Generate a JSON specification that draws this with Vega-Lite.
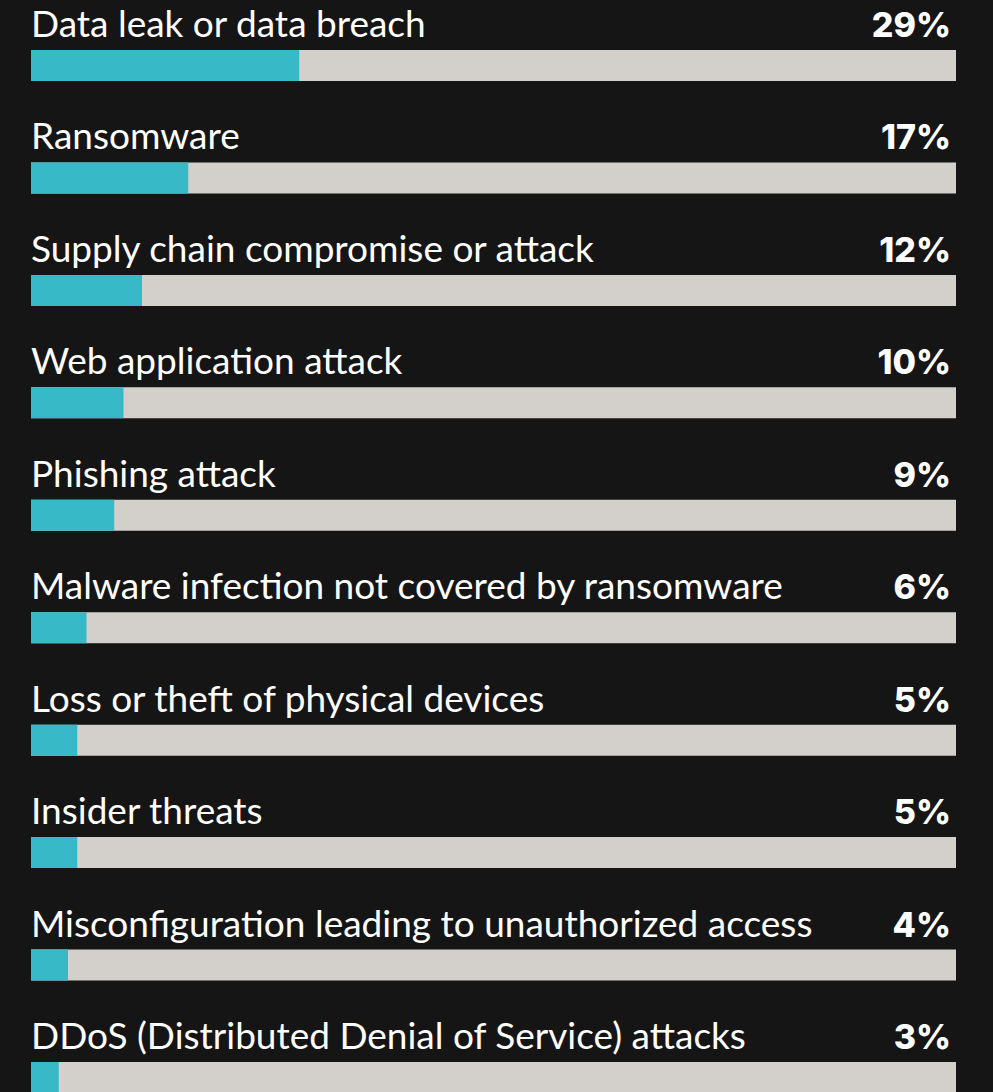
{
  "$schema": "https://vega.github.io/schema/vega-lite/v6.json",
  "width": 993,
  "height": 1092,
  "autosize": {"type": "none"},
  "padding": 0,
  "background": "#151515",
  "view": {"stroke": null},
  "config": {"font": "Lato"},
  "data": {"values": [
    {"label": "Data leak or data breach", "value": 0.29, "total": 1},
    {"label": "Ransomware", "value": 0.17, "total": 1},
    {"label": "Supply chain compromise or attack", "value": 0.12, "total": 1},
    {"label": "Web application attack", "value": 0.10, "total": 1},
    {"label": "Phishing attack", "value": 0.09, "total": 1},
    {"label": "Malware infection not covered by ransomware", "value": 0.06, "total": 1},
    {"label": "Loss or theft of physical devices", "value": 0.05, "total": 1},
    {"label": "Insider threats", "value": 0.05, "total": 1},
    {"label": "Misconfiguration leading to unauthorized access", "value": 0.04, "total": 1},
    {"label": "DDoS (Distributed Denial of Service) attacks", "value": 0.03, "total": 1}
  ]},
  "encoding": {
    "y": {"field": "label", "type": "ordinal", "sort": null,
          "scale": {"type": "point", "range": [65.5, 1077.5], "padding": 0},
          "axis": null}
  },
  "layer": [
    {
      "mark": {"type": "bar", "height": 31, "color": "#d3d0cb"},
      "encoding": {
        "x": {"field": "total", "type": "quantitative", "stack": null, "scale": {"domain": [0, 1], "range": [31, 956], "zero": true}, "axis": null}
      }
    },
    {
      "mark": {"type": "bar", "height": 31, "color": "#38b9c7"},
      "encoding": {
        "x": {"field": "value", "type": "quantitative", "stack": null}
      }
    },
    {
      "mark": {"type": "text", "align": "left", "baseline": "alphabetic", "dy": -28.5, "fontSize": 37, "color": "#ffffff", "font": "Lato"},
      "encoding": {
        "x": {"datum": 0, "type": "quantitative"},
        "text": {"field": "label", "type": "nominal"}
      }
    },
    {
      "mark": {"type": "text", "align": "right", "baseline": "alphabetic", "dy": -28.5, "dx": -5, "fontSize": 34, "fontWeight": 800, "color": "#ffffff", "font": "Inter"},
      "encoding": {
        "x": {"field": "total", "type": "quantitative"},
        "text": {"field": "value", "type": "quantitative", "format": ".0%"}
      }
    }
  ]
}
